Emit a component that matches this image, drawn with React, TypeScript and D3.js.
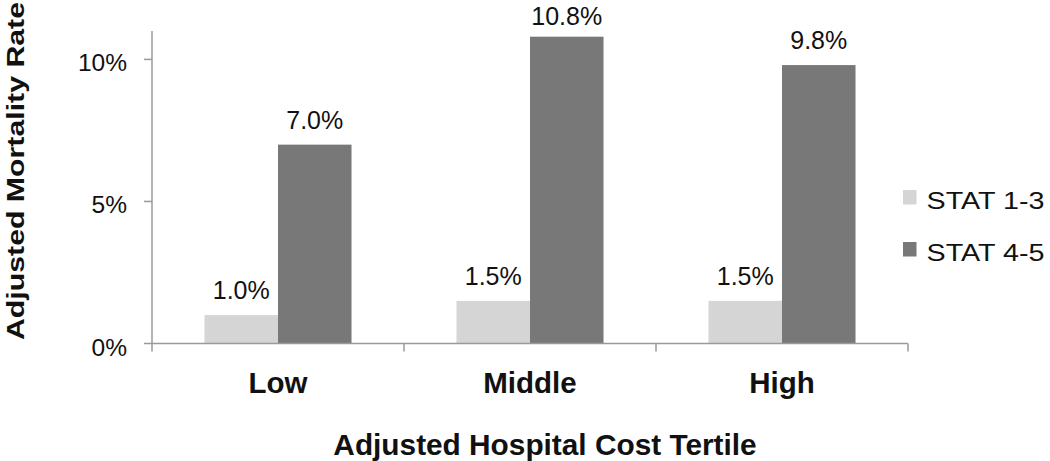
import React from "react";
import * as d3 from "d3";

const categories = ["Low", "Middle", "High"];
const seriesNames = ["STAT 1-3", "STAT 4-5"];
const stat13 = [0.010, 0.015, 0.015];
const stat45 = [0.070, 0.108, 0.098];
const valueLabels13 = ["1.0%", "1.5%", "1.5%"];
const valueLabels45 = ["7.0%", "10.8%", "9.8%"];
const yTicks = [0, 0.05, 0.10];
const yTickLabels = ["0%", "5%", "10%"];
const colors = ["#d5d5d5", "#787878"];

const W = 1050;
const H = 461;
const FONT = "'Liberation Sans', Arial, Helvetica, sans-serif";

export default function App() {
  const left = 152;
  const right = 908;
  const top = 31;
  const bottom = 343.5;

  const x = d3.scaleBand<string>().domain(categories).range([left, right]).paddingInner(0).paddingOuter(0);
  const xi = d3.scaleBand<string>().domain(seriesNames).range([0, x.bandwidth()]).paddingInner(0).paddingOuter(0.714);
  const y = d3.scaleLinear().domain([0, 0.11]).range([bottom, top]);

  const series = [
    { name: seriesNames[0], values: stat13, labels: valueLabels13, color: colors[0] },
    { name: seriesNames[1], values: stat45, labels: valueLabels45, color: colors[1] },
  ];

  const boundaries = [...categories.map((c) => x(c) as number), right];
  const axisColor = "#9a9a9a";

  return (
    <svg width={W} height={H} style={{ position: "absolute", left: 0, top: 0, background: "#fff" }} fontFamily={FONT}>
      {/* bars */}
      {series.map((s) =>
        categories.map((c, i) => {
          const bx = (x(c) as number) + (xi(s.name) as number);
          const by = y(s.values[i]);
          return (
            <rect key={s.name + c} x={bx} y={by} width={xi.bandwidth()} height={bottom - by} fill={s.color} />
          );
        })
      )}
      {/* value labels */}
      {series.map((s) =>
        categories.map((c, i) => {
          const cx = (x(c) as number) + (xi(s.name) as number) + xi.bandwidth() / 2;
          const ly = Math.max(y(s.values[i]) - 16, 25);
          return (
            <text key={"l" + s.name + c} x={cx} y={ly} textAnchor="middle" fontSize={25} fill="#111">
              {s.labels[i]}
            </text>
          );
        })
      )}
      {/* y axis */}
      <line x1={left} x2={left} y1={top} y2={bottom} stroke={axisColor} strokeWidth={1.5} />
      {yTicks.map((t, i) => (
        <g key={"yt" + i}>
          <line x1={left - 8} x2={left} y1={y(t)} y2={y(t)} stroke={axisColor} strokeWidth={1.5} />
          <text x={127} y={y(t) + 12} textAnchor="end" fontSize={24.5} fill="#111">
            {yTickLabels[i]}
          </text>
        </g>
      ))}
      {/* x axis */}
      <line x1={left} x2={right} y1={bottom} y2={bottom} stroke={axisColor} strokeWidth={1.5} />
      {boundaries.map((b, i) => (
        <line key={"xt" + i} x1={b} x2={b} y1={bottom} y2={bottom + 8} stroke={axisColor} strokeWidth={1.5} />
      ))}
      {categories.map((c) => (
        <text key={"c" + c} x={(x(c) as number) + x.bandwidth() / 2} y={393} textAnchor="middle" fontSize={29.5} fontWeight="bold" fill="#111">
          {c}
        </text>
      ))}
      {/* axis titles */}
      <text x={545} y={455} textAnchor="middle" fontSize={29.8} fontWeight="bold" fill="#111">
        Adjusted Hospital Cost Tertile
      </text>
      <text
        transform="translate(24,171) rotate(-90)"
        textAnchor="middle"
        fontSize={23.5}
        fontWeight="bold"
        fill="#111"
        textLength={338}
        lengthAdjust="spacingAndGlyphs"
      >
        Adjusted Mortality Rate
      </text>
      {/* legend */}
      {series.map((s, i) => (
        <g key={"lg" + i} transform={`translate(903, ${190 + i * 52})`}>
          <rect x={0} y={0} width={13.5} height={14.5} fill={s.color} />
          <text x={23.5} y={18.5} fontSize={24} fill="#111" textLength={118} lengthAdjust="spacingAndGlyphs">
            {s.name}
          </text>
        </g>
      ))}
    </svg>
  );
}
